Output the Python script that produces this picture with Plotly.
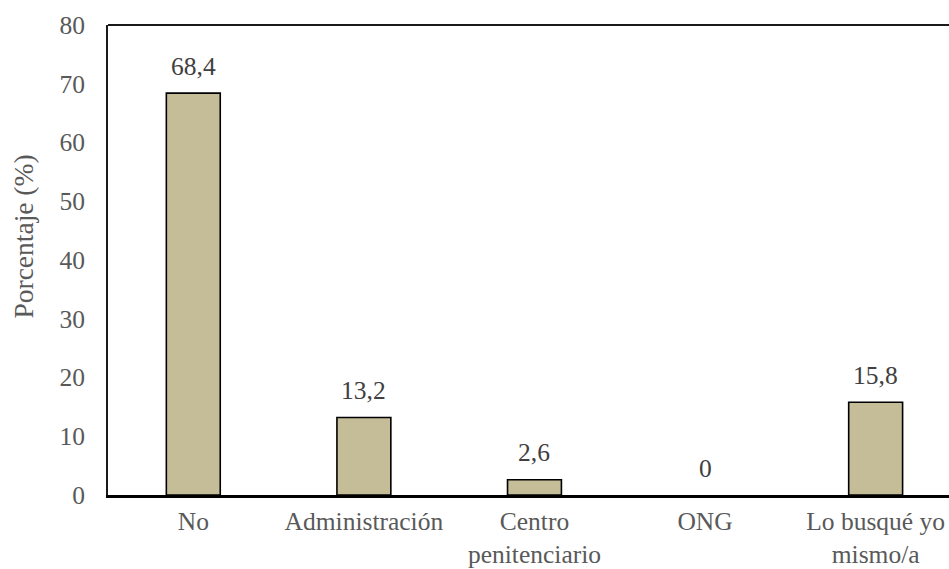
import plotly.graph_objects as go

# Survey results: who helped find the placement
categorias = ["No", "Administración", "Centro<br>penitenciario", "ONG", "Lo busqué yo<br>mismo/a"]
porcentajes = [68.4, 13.2, 2.6, 0, 15.8]
y_ticks = [0, 10, 20, 30, 40, 50, 60, 70, 80]

FONT = "Liberation Serif"
GRIS = "#595959"

fig = go.Figure(
    go.Bar(
        x=categorias,
        y=porcentajes,
        marker=dict(
            color="#c4bd97",
            # zero-height bars get no outline
            line=dict(color="#000000", width=[1.6 if v > 0 else 0 for v in porcentajes]),
        ),
        width=0.316,
        hoverinfo="skip",
    )
)

# value labels above each bar, decimal comma
for cat, val in zip(categorias, porcentajes):
    fig.add_annotation(
        x=cat, y=val, xref="x", yref="y",
        text=f"{val:g}".replace(".", ","),
        showarrow=False, yanchor="middle", yshift=27,
        font=dict(family=FONT, size=25.5, color="#404040"),
    )

# y-axis title
fig.add_annotation(
    x=-0.101, y=0.55, xref="paper", yref="paper",
    text="Porcentaje (%)", textangle=-90, showarrow=False,
    xanchor="center", yanchor="middle",
    font=dict(family=FONT, size=27.5, color=GRIS),
)

# top frame line
fig.add_shape(type="line", xref="paper", yref="paper", x0=0, x1=1, y0=1, y1=1,
              line=dict(color="#1a1a1a", width=2))

fig.update_layout(
    width=949, height=569,
    margin=dict(l=107.5, r=0, t=25, b=73.5, autoexpand=False),
    plot_bgcolor="white", paper_bgcolor="white",
    showlegend=False,
    font=dict(family=FONT, size=25.5, color=GRIS),
    xaxis=dict(
        type="category",
        range=[-0.5, 4.43],
        showline=True, linecolor="#000000", linewidth=3,
        ticks="", showgrid=False, zeroline=False,
        automargin=False,
        ticklabelstandoff=1,
        tickfont=dict(family=FONT, size=25.5, color=GRIS),
    ),
    yaxis=dict(
        range=[0, 80],
        tickvals=y_ticks,
        showline=True, linecolor="#1a1a1a", linewidth=1.6,
        ticks="", showgrid=False, zeroline=False,
        automargin=False,
        ticklabelstandoff=16,
        tickfont=dict(family=FONT, size=25.5, color=GRIS),
    ),
)

fig.write_html("out.html")
